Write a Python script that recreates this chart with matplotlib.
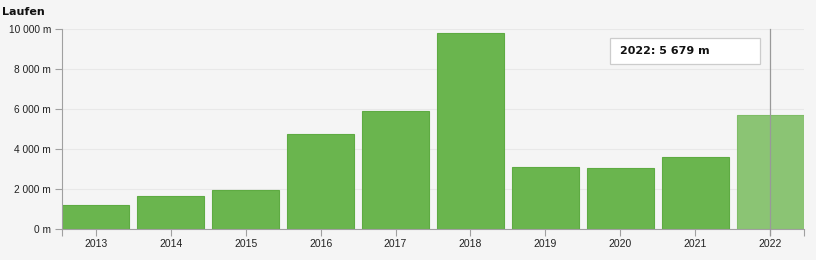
import matplotlib

matplotlib.use("Agg")
import matplotlib.pyplot as plt
from matplotlib.patches import Rectangle
from matplotlib.ticker import FuncFormatter

years = ["2013", "2014", "2015", "2016", "2017", "2018", "2019", "2020", "2021", "2022"]
distance_m = [1185, 1635, 1950, 4765, 5883, 9783, 3117, 3050, 3617, 5679]
highlight = "2022"

BG = "#f5f5f5"
BAR = "#6ab54e"
BAR_HI = "#8bc474"
AXIS = "#a0a0a0"
W, H = 816, 260

plt.rcParams.update({
    "font.family": ["Liberation Sans", "DejaVu Sans"],
    "font.size": 7.5,
})

fig = plt.figure(figsize=(W / 100, H / 100), dpi=100, facecolor=BG)
ax = fig.add_axes([62 / W, 1 - 229 / H, (804 - 62) / W, 200 / H], facecolor=BG)

x = range(len(years))
colors = [BAR_HI if y == highlight else BAR for y in years]
edges = ["#7fbd66" if y == highlight else "#5eab42" for y in years]
ax.bar(x, distance_m, width=0.9, color=colors, edgecolor=edges, linewidth=0.8, zorder=2)

ax.set_xlim(-0.45, len(years) - 0.55)
ax.set_ylim(0, 10000)
ax.set_yticks(range(0, 10001, 2000))
ax.yaxis.set_major_formatter(FuncFormatter(lambda v, _: f"{int(v):,} m".replace(",", " ")))
ax.set_xticks(list(x))
ax.set_xticklabels(years)
ax.set_xticks([-0.45, len(years) - 0.55], minor=True)
ax.tick_params(axis="both", which="both", colors=AXIS, labelcolor="#222222", length=5, width=0.8, labelsize=7.5)
ax.tick_params(axis="y", pad=3, labelsize=7.3)
ax.tick_params(axis="x", pad=2)

ax.grid(axis="y", color="#e8e8e8", linewidth=0.8, zorder=0)
for s in ["top", "right"]:
    ax.spines[s].set_visible(False)
for s in ["left", "bottom"]:
    ax.spines[s].set_color(AXIS)
    ax.spines[s].set_linewidth(0.8)

# hover crosshair and tooltip on the highlighted year
hi = years.index(highlight)
ax.axvline(hi, ymin=-0.03, ymax=1.0, color="#999999", linewidth=0.9, zorder=3, clip_on=False)
fig.patches.append(Rectangle((610 / W, 1 - 64 / H), 150 / W, 26 / H, transform=fig.transFigure,
                             facecolor="white", edgecolor="#cccccc", linewidth=0.9, zorder=4))
fig.text(620 / W, 1 - 51 / H, f"{highlight}: {distance_m[hi]:,} m".replace(",", " "),
         family="DejaVu Sans", fontweight="bold", fontsize=8, color="#111111",
         ha="left", va="center", zorder=5)

fig.text(2 / W, 1 - 12 / H, "Laufen", family="DejaVu Sans", fontweight="bold",
         fontsize=8, color="#111111", ha="left", va="center")

fig.savefig("out.png", dpi=100, facecolor=BG)
